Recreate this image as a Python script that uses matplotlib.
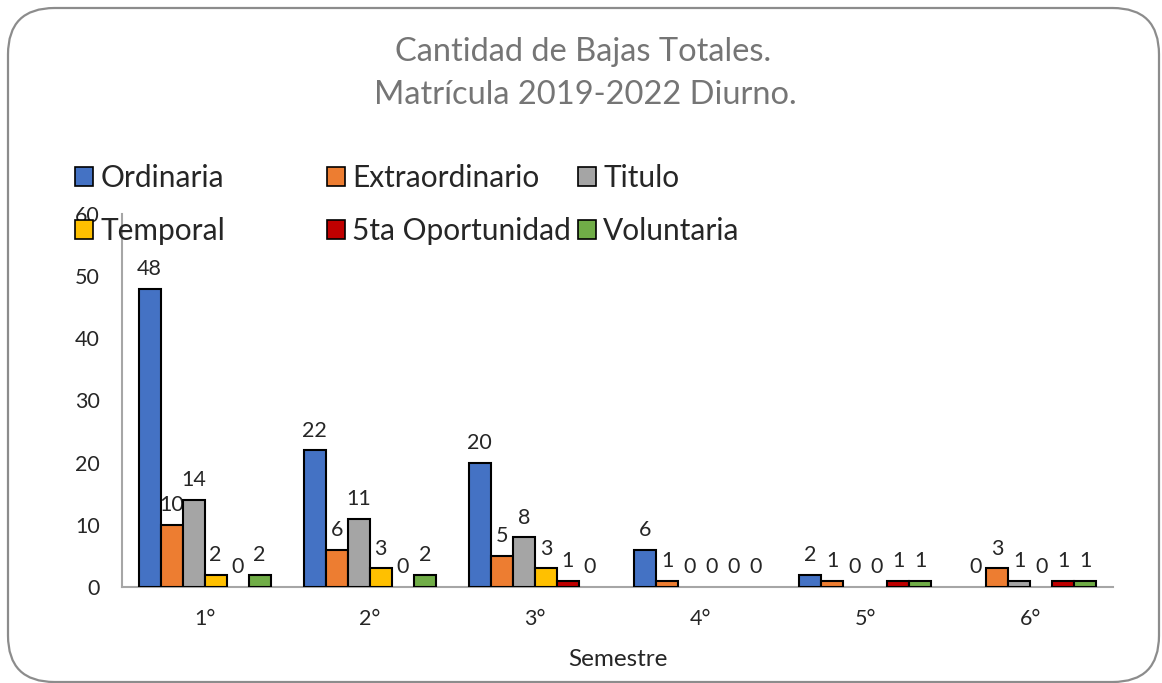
import matplotlib
matplotlib.use("Agg")
import matplotlib.pyplot as plt
import numpy as np
from matplotlib.patches import FancyBboxPatch, Patch

plt.rcParams['font.family'] = ['Lato', 'DejaVu Sans']

semestres = ["1°", "2°", "3°", "4°", "5°", "6°"]
series_names = ["Ordinaria", "Extraordinario", "Titulo", "Temporal", "5ta Oportunidad", "Voluntaria"]
ordinaria = [48, 22, 20, 6, 2, 0]
extraordinario = [10, 6, 5, 1, 1, 3]
titulo = [14, 11, 8, 0, 0, 1]
temporal = [2, 3, 3, 0, 0, 0]
oportunidad5 = [0, 0, 1, 0, 1, 1]
voluntaria = [2, 2, 0, 0, 1, 1]
series_values = [ordinaria, extraordinario, titulo, temporal, oportunidad5, voluntaria]
colors = ["#4472C4", "#ED7D31", "#A5A5A5", "#FFC000", "#C00000", "#70AD47"]
yticks = [0, 10, 20, 30, 40, 50, 60]

W, H = 1162, 683
fig = plt.figure(figsize=(W / 100, H / 100), dpi=100)

# rounded border
border = FancyBboxPatch((8 / W, 1 - 682 / H), (1159 - 8) / W, (682 - 8) / H,
                        boxstyle="round,pad=0,rounding_size=0.04",
                        transform=fig.transFigure, facecolor="none",
                        edgecolor="#8C8C8C", linewidth=1.6, mutation_aspect=W / H, zorder=-1)
fig.patches.append(border)

ax = fig.add_axes([122 / W, 1 - 587 / H, (1113 - 122) / W, (587 - 214) / H])
ax.set_facecolor("none")

n = len(series_names)
width = 0.8 / n
x = np.arange(len(semestres))
for i, (name, vals, c) in enumerate(zip(series_names, series_values, colors)):
    offs = (i - (n - 1) / 2) * width
    lw = [1.5 if v > 0 else 0 for v in vals]
    bars = ax.bar(x + offs, vals, width, color=c, edgecolor="black", linewidth=lw, label=name, zorder=3)
    ax.bar_label(bars, labels=[str(v) for v in vals], padding=7, fontsize=15.5, color="#262626")

ax.set_xlim(-0.5, len(semestres) - 0.5)
ax.set_ylim(0, 60)
ax.set_yticks(yticks)
ax.set_xticks(x)
ax.set_xticklabels(semestres)
ax.tick_params(axis="both", length=0, labelsize=15.5, colors="#262626")
ax.tick_params(axis="y", pad=16)
ax.tick_params(axis="x", pad=16)
for s in ["top", "right"]:
    ax.spines[s].set_visible(False)
for s in ["left", "bottom"]:
    ax.spines[s].set_color("#A6A6A6")
    ax.spines[s].set_linewidth(1.5)
ax.set_xlabel("Semestre", fontsize=17.5, color="#262626", labelpad=14)

fig.text(583 / W, 1 - 52 / H, "Cantidad de Bajas Totales.", ha="center", va="center",
         fontsize=23.5, color="#757575")
fig.text(585 / W, 1 - 95 / H, "Matrícula 2019-2022 Diurno.", ha="center", va="center",
         fontsize=23.5, color="#757575")

# legend: three columns, two rows
col_x = [75, 327, 578]
pairs = [(0, 3), (1, 4), (2, 5)]
for cx, (a, b) in zip(col_x, pairs):
    handles = [Patch(facecolor=colors[k], edgecolor="black", linewidth=1.2) for k in (a, b)]
    leg = fig.legend(handles, [series_names[a], series_names[b]], loc="upper left",
                     bbox_to_anchor=(cx / W, 1 - 164 / H), frameon=False, fontsize=21.5,
                     handlelength=0.6, handleheight=0.6, handletextpad=0.25,
                     labelspacing=0.85, borderpad=0, borderaxespad=0)
    for t in leg.get_texts():
        t.set_color("#262626")

fig.savefig("out.png", dpi=100)
